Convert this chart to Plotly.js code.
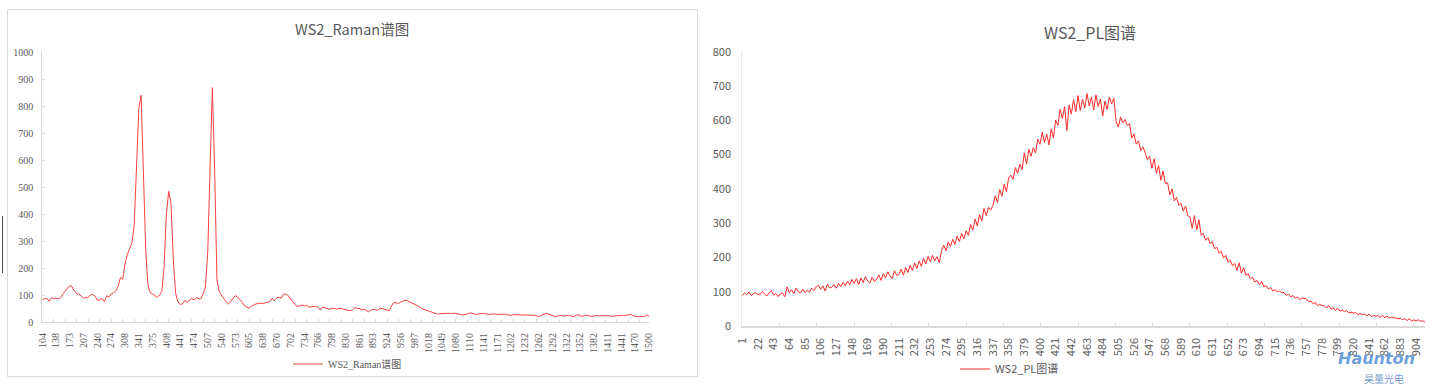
<!DOCTYPE html>
<html><head><meta charset="utf-8">
<script src="https://cdn.plot.ly/plotly-3.0.1.min.js"></script>
<style>html,body{margin:0;padding:0;background:#fff}#chart{width:1434px;height:390px}</style>
</head><body><div id="chart"></div>
<script>
// ---------- Raman spectrum (category axis, labels every 6th sample) ----------
const ramanLabels = [104,138,173,207,240,274,308,341,375,408,441,474,507,540,573,605,638,670,702,734,766,798,830,861,893,924,956,987,1018,1049,1080,1110,1141,1171,1202,1232,1262,1292,1322,1352,1382,1411,1441,1470,1500];
const ramanIntensity = [
  84,86,88,76,90,87,88,86,90,105,
  115,124,135,130,114,104,103,96,88,90,
  92,100,102,96,80,82,87,76,97,93,
  104,108,116,132,165,158,215,250,275,293,
  360,580,790,840,540,265,135,108,104,96,
  91,100,112,205,400,484,440,230,108,75,
  65,67,80,73,80,88,82,90,87,86,
  104,130,260,580,868,560,156,112,100,87,
  74,67,75,88,98,92,84,73,60,55,
  51,58,64,67,69,68,69,71,72,75,
  88,78,90,92,88,104,103,98,85,72,
  64,57,61,63,59,62,55,56,59,58,
  55,44,56,53,50,47,50,51,48,50,
  51,47,46,44,42,44,54,50,50,45,
  48,42,38,44,47,45,44,52,50,48,
  44,42,60,72,71,68,74,77,81,78,
  74,72,68,62,57,50,47,44,40,36,
  33,30,29,31,32,32,32,32,31,33,
  32,30,28,26,27,30,34,32,29,28,
  30,31,32,30,28,28,30,29,27,28,
  29,30,27,25,25,27,28,27,26,26,
  27,25,26,26,25,23,20,24,28,32,
  30,26,22,20,22,23,24,22,23,25,
  23,20,24,27,24,21,23,26,23,21,
  22,24,23,23,22,24,22,23,21,22,
  24,24,25,24,26,27,28,24,20,19,
  20,21,20,27,20
];
const ramanLabelEvery = 6;   // one label every 6 categories
const ramanTickEvery = 5;    // one tick mark every 5 categories

// ---------- PL spectrum (channels 1..916, sampled every 3rd channel) ----------
const plLabels = [1,22,43,64,85,106,127,148,169,190,211,232,253,274,295,316,337,358,379,400,421,442,463,484,505,526,547,568,589,610,631,652,673,694,715,736,757,778,799,820,841,862,883,904];
const plIntensity = [
  88,97,91,99,89,95,97,90,94,100,
  93,88,97,103,90,95,86,94,96,85,
  114,97,106,95,110,100,96,107,98,104,
  99,110,103,114,119,107,117,102,122,111,
  113,121,110,124,115,127,117,131,120,136,
  124,138,121,140,127,144,131,125,142,130,
  136,149,133,153,141,158,146,139,161,148,
  150,166,148,171,156,177,162,184,168,190,
  174,197,181,203,187,206,190,202,185,220,
  236,219,245,232,253,238,262,246,270,254,
  278,264,296,280,312,292,325,306,343,322,
  346,338,352,380,360,398,378,414,392,432,
  440,428,462,445,472,456,505,472,515,495,
  520,505,545,530,565,535,560,528,575,548,
  600,585,632,605,640,570,645,618,660,625,
  672,628,662,636,678,642,668,630,674,640,
  662,612,656,632,668,648,664,596,580,610,
  592,602,585,590,548,560,530,540,512,522,
  505,485,495,460,488,445,468,425,452,415,
  418,382,400,365,375,352,358,335,350,322,
  318,285,322,280,310,265,270,250,258,240,
  246,225,230,212,218,198,206,186,192,176,
  182,162,184,154,170,148,152,138,142,128,
  133,120,130,114,118,108,112,102,106,100,
  102,97,98,89,93,85,89,81,85,77,
  82,80,79,71,73,65,69,59,63,59,
  60,52,60,49,53,45,52,43,47,42,
  45,38,40,38,39,33,36,33,35,30,
  34,28,31,29,30,25,31,24,29,23,
  26,23,24,21,22,19,21,16,21,15,
  18,15,18,14,15,11
];
const plFirstChannel = 1;
const plStep = 3;
const plTickEvery = 50;

// ---------- derived positions ----------
const ramanX = ramanIntensity.map((_, i) => i);
const ramanTickVals = ramanLabels.map((_, k) => k * ramanLabelEvery);
const plX = plIntensity.map((_, k) => plFirstChannel + k * plStep);
const plLast = plX[plX.length - 1];

const W = 1434, H = 390;
const px = v => v / W, py = v => (H - v) / H;

const grayText = '#595959';
const serif = 'Liberation Serif, DejaVu Serif, Noto Sans CJK SC, serif';
const sans = 'Noto Sans CJK SC, Noto Sans, sans-serif';

const traces = [
  {x: ramanX, y: ramanIntensity, type: 'scatter', mode: 'lines', name: 'WS2_Raman谱图',
   line: {color: '#ff4040', width: 1}, xaxis: 'x', yaxis: 'y', legend: 'legend', hoverinfo: 'skip'},
  {x: plX, y: plIntensity, type: 'scatter', mode: 'lines', name: 'WS2_PL图谱',
   line: {color: '#ff2a2a', width: 1}, xaxis: 'x2', yaxis: 'y2', legend: 'legend2', hoverinfo: 'skip'},
  {x: [], y: [], type: 'scatter', xaxis: 'x3', yaxis: 'y', showlegend: false, hoverinfo: 'skip'},
  {x: [], y: [], type: 'scatter', xaxis: 'x4', yaxis: 'y2', showlegend: false, hoverinfo: 'skip'}
];

const layout = {
  width: W, height: H, showlegend: true,
  margin: {l: 0, r: 0, t: 0, b: 0, pad: 0},
  paper_bgcolor: '#fff', plot_bgcolor: 'rgba(0,0,0,0)',
  xaxis: {
    domain: [px(42.3), px(649)], range: [0, ramanX.length - 1], anchor: 'y',
    tickmode: 'array', tickvals: ramanTickVals, ticktext: ramanLabels.map(String),
    tickangle: -90, ticks: '', showline: true, linecolor: '#d9d9d9', linewidth: 1,
    showgrid: false, zeroline: false, ticklabelstandoff: 6,
    tickfont: {family: serif, size: 10, color: grayText}
  },
  xaxis3: {
    overlaying: 'x', anchor: 'y', range: [0, ramanX.length - 1],
    tickmode: 'linear', tick0: 0, dtick: ramanTickEvery, ticks: 'inside', ticklen: 3,
    tickcolor: '#d9d9d9', showticklabels: false, showline: false, showgrid: false, zeroline: false
  },
  yaxis: {
    domain: [py(322), py(52)], range: [0, 1000], anchor: 'x', dtick: 100,
    showline: true, linecolor: '#d9d9d9', ticks: 'inside', ticklen: 3, tickcolor: '#d9d9d9',
    showgrid: false, zeroline: false, ticklabelstandoff: 6,
    tickfont: {family: serif, size: 10, color: grayText}
  },
  xaxis2: {
    domain: [px(742.3), px(1425)], range: [plFirstChannel, plLast], anchor: 'y2',
    tickmode: 'array', tickvals: plLabels, ticktext: plLabels.map(String),
    tickangle: -90, ticks: '', showline: true, linecolor: '#d9d9d9', linewidth: 1.5,
    showgrid: false, zeroline: false, ticklabelstandoff: 6,
    tickfont: {family: sans, size: 11, color: grayText}
  },
  xaxis4: {
    overlaying: 'x2', anchor: 'y2', range: [plFirstChannel, plLast],
    tickmode: 'linear', tick0: plFirstChannel, dtick: plTickEvery, ticks: 'inside', ticklen: 3,
    tickcolor: '#d9d9d9', showticklabels: false, showline: false, showgrid: false, zeroline: false
  },
  yaxis2: {
    domain: [py(326), py(51.7)], range: [0, 800], anchor: 'x2', dtick: 100,
    showline: true, linecolor: '#e8e8dc', ticks: '', showgrid: false, zeroline: false,
    ticklabelstandoff: 8, tickfont: {family: sans, size: 11, color: grayText}
  },
  legend: {
    x: px(288), xanchor: 'left', y: py(364), yanchor: 'middle', orientation: 'h',
    bgcolor: 'rgba(0,0,0,0)', font: {family: serif, size: 10, color: grayText}
  },
  legend2: {
    x: px(955), xanchor: 'left', y: py(369), yanchor: 'middle', orientation: 'h',
    bgcolor: 'rgba(0,0,0,0)', font: {family: sans, size: 11, color: grayText}
  },
  annotations: [
    {text: 'WS2_Raman谱图', xref: 'paper', yref: 'paper', x: px(352), y: py(29),
     xanchor: 'center', yanchor: 'middle', showarrow: false,
     font: {family: sans, size: 14.5, color: grayText}},
    {text: 'WS2_PL图谱', xref: 'paper', yref: 'paper', x: px(1090), y: py(32),
     xanchor: 'center', yanchor: 'middle', showarrow: false,
     font: {family: sans, size: 16, color: grayText}},
    {text: '<b><i>Haunton</i></b>', xref: 'paper', yref: 'paper', x: px(1376), y: py(358),
     xanchor: 'center', yanchor: 'middle', showarrow: false,
     font: {family: 'DejaVu Sans, sans-serif', size: 16, color: 'rgba(60,130,210,0.75)'}},
    {text: '昊量光电', xref: 'paper', yref: 'paper', x: px(1384), y: py(378),
     xanchor: 'center', yanchor: 'middle', showarrow: false,
     font: {family: sans, size: 10, color: 'rgba(70,120,190,0.75)'}}
  ],
  shapes: [
    {type: 'rect', xref: 'paper', yref: 'paper', x0: px(7.5), x1: px(697.5), y0: py(376.5), y1: py(9.5),
     line: {color: '#d9d9d9', width: 1}, fillcolor: 'rgba(0,0,0,0)'},
    {type: 'line', xref: 'paper', yref: 'paper', x0: px(2.5), x1: px(2.5), y0: py(273), y1: py(216),
     line: {color: '#444', width: 1}}
  ]
};

Plotly.newPlot('chart', traces, layout, {displayModeBar: false, staticPlot: true});
</script>
</body></html>
